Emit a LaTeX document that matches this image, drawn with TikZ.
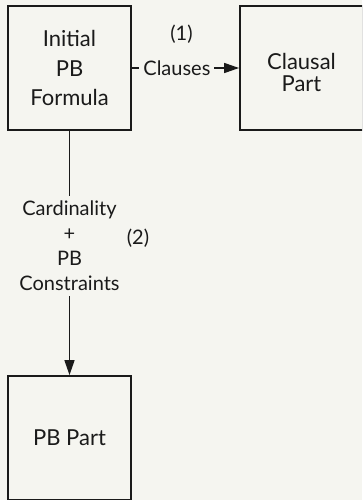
\documentclass[tikz,border=0pt]{standalone}
\usepackage{fontspec}
\setmainfont{Lato}
\usetikzlibrary{arrows.meta}
\definecolor{paper}{RGB}{245,245,240}
\definecolor{ink}{RGB}{26,26,26}
\begin{document}
\begin{tikzpicture}[x=1pt,y=-1pt,
  block/.style={draw=ink, line width=1.8pt, fill=paper, text=ink, align=center,
    minimum width=123pt, minimum height=124pt, inner sep=0pt},
  link/.style={draw=ink, line width=1.4pt, -{Triangle[length=15pt,width=10pt]}},
  lbl/.style={fill=paper, text=ink, align=center, font=\fontsize{20}{25}\selectfont, inner sep=4pt},
  tag/.style={text=ink, font=\fontsize{20}{25}\selectfont, inner sep=0pt}]
  \useasboundingbox (0,0) rectangle (362,500);
  \fill[paper] (0,0) rectangle (362,500);
  \clip (0,0) rectangle (362,500);

  % the three parts
  \node[block, font=\fontsize{22}{29.5}\selectfont] (init) at (69.5,68) {Initial\\PB\\Formula};
  \node[block] (claus) at (301.5,68) {};
  \node[text=ink, align=center, inner sep=0pt, font=\fontsize{22}{22}\selectfont] (clausText) at (301.5,72.5) {Clausal\\Part};
  \node[block, font=\fontsize{22}{26}\selectfont] (pb) at (69.5,438) {PB Part};

  % step (1): clauses go straight to the clausal part
  \draw[link] (init.east) -- node[lbl, pos=0.42] (clauses) {Clauses} (claus.west);
  \node[tag] (one) at (181.5,34.5) {(1)};

  % step (2): cardinality and PB constraints go to the PB part
  \draw[link] (init.south) -- node[lbl, pos=0.47, inner sep=5pt] (card) {Cardinality\\+\\PB\\Constraints} (pb.north);
  \node[tag] (two) at (138,238) {(2)};
\end{tikzpicture}
\end{document}
